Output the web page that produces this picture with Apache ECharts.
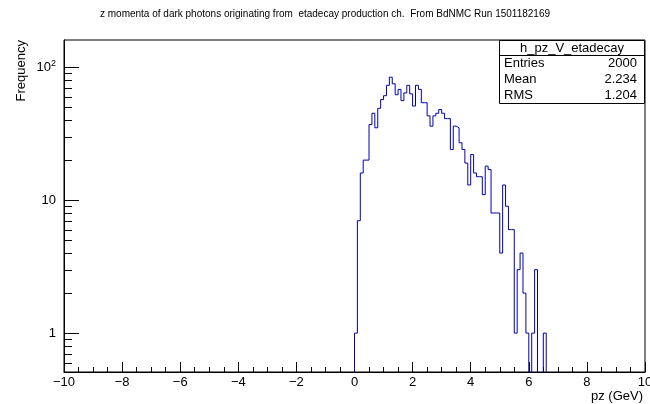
<!DOCTYPE html>
<html>
<head>
<meta charset="utf-8">
<script src="https://cdn.jsdelivr.net/npm/echarts@6/dist/echarts.min.js"></script>
<style>
  html, body { margin: 0; padding: 0; background: #fff; }
  #chart { width: 650px; height: 404px; }
</style>
</head>
<body>
<div id="chart"></div>
<script>
// Histogram binning (GeV)
const xMin = -10;
const xMax = 10;
const binWidth = 0.1;
const firstBinLow = 0;
// Entries per 0.1 GeV bin, starting at pz = 0
const counts = [
  1, 7, 16, 20, 20, 37, 45, 35, 49, 57,
  61, 73, 84, 75, 62, 68, 56, 64, 73, 63,
  51, 73, 68, 54, 54, 43, 36, 43, 45, 48,
  45, 41, 41, 24, 36, 35, 27, 24, 19, 13,
  22, 16, 15, 15, 11, 18, 17, 8, 8, 8,
  4, 13, 9, 6, 6, 1, 3, 4, 2, 1,
  0, 1, 3, 0, 0, 1
];
// Vertical (log) axis range and ticks
const yMin = 0.51;
const yMax = 160;
const yMajorTicks = [1, 10, 100];
const yMinorTicks = [0.6, 0.7, 0.8, 0.9, 2, 3, 4, 5, 6, 7, 8, 9, 20, 30, 40, 50, 60, 70, 80, 90];
const xTickStep = 2;

const titleText = 'z momenta of dark photons originating from  etadecay production ch.  From BdNMC Run 1501182169';
const xTitle = 'pz (GeV)';
const yTitle = 'Frequency';
const statsName = 'h_pz_V_etadecay';
const statsRows = [['Entries', '2000'], ['Mean', '2.234'], ['RMS', '1.204']];

// Empty bins sit below the visible log range (drawn on the frame bottom, clipped)
const emptyLevel = 0.3;

const nBins = Math.round((xMax - xMin) / binWidth);
const stepPoints = [];
let lastVal = emptyLevel;
for (let k = 0; k <= nBins; k++) {
  const x = +(xMin + k * binWidth).toFixed(3);
  if (k < nBins) {
    const idx = Math.round((x - firstBinLow) / binWidth);
    const c = (idx >= 0 && idx < counts.length) ? counts[idx] : 0;
    lastVal = c > 0 ? c : emptyLevel;
  }
  stepPoints.push([x, lastVal]);
}

// Tick marks on the log axis (major ticks are longer), drawn inward from the frame
const tickValues = yMajorTicks.concat(yMinorTicks);
const tickLengths = yMajorTicks.map(() => 15).concat(yMinorTicks.map(() => 8));
const tickData = tickValues.map(v => [0, v]);

const FONT = '"Liberation Sans", Arial, Helvetica, sans-serif';
const chart = echarts.init(document.getElementById('chart'), null, { renderer: 'canvas' });

const statsLeft = 499, statsRight = 645, statsTop = 40, statsSep = 55.5, statsBottom = 103.5;
const graphics = [
  { type: 'text', left: 'center', top: 9, style: { text: titleText, font: '10px ' + FONT, fill: '#000' } },
  { type: 'text', x: 643, y: 396, style: { text: xTitle, font: '13px ' + FONT, fill: '#000', align: 'right', verticalAlign: 'middle' } },
  { type: 'text', x: 21, y: 40, rotation: Math.PI / 2, style: { text: yTitle, font: '13px ' + FONT, fill: '#000', align: 'right', verticalAlign: 'middle' } },
  { type: 'rect', shape: { x: statsLeft + 0.5, y: statsTop + 0.5, width: statsRight - statsLeft - 1, height: statsBottom - statsTop - 0.5 },
    style: { fill: '#fff', stroke: '#000', lineWidth: 1 }, z: 60 },
  { type: 'line', shape: { x1: statsLeft, y1: statsSep, x2: statsRight, y2: statsSep }, style: { stroke: '#000', lineWidth: 1 }, z: 61 },
  { type: 'text', x: (statsLeft + statsRight) / 2, y: 48, z: 61,
    style: { text: statsName, font: '13px ' + FONT, fill: '#000', align: 'center', verticalAlign: 'middle' } }
];
statsRows.forEach((row, i) => {
  const y = 63.5 + i * 16.2;
  graphics.push({ type: 'text', x: 504, y: y, z: 61, style: { text: row[0], font: '13px ' + FONT, fill: '#000', align: 'left', verticalAlign: 'middle' } });
  graphics.push({ type: 'text', x: 637, y: y, z: 61, style: { text: row[1], font: '13px ' + FONT, fill: '#000', align: 'right', verticalAlign: 'middle' } });
});

chart.setOption({
  animation: false,
  backgroundColor: '#fff',
  grid: { left: 64, right: 5, top: 40, bottom: 32, outerBoundsMode: 'none', containLabel: false,
    show: true, borderColor: '#000', borderWidth: 1, backgroundColor: 'transparent' },
  xAxis: {
    type: 'value', min: xMin, max: xMax, interval: xTickStep,
    axisLine: { show: true, onZero: false, lineStyle: { color: '#000', width: 1 } },
    axisTick: { show: true, inside: true, length: 10, lineStyle: { color: '#000' } },
    minorTick: { show: true, splitNumber: 4, length: 5, lineStyle: { color: '#000' } },
    splitLine: { show: false },
    axisLabel: { color: '#000', fontFamily: FONT, fontSize: 13, margin: 4,
      formatter: v => String(v).replace('-', '\u2212') }
  },
  yAxis: {
    type: 'log', logBase: 10, min: yMin, max: yMax,
    axisLine: { show: true, onZero: false, lineStyle: { color: '#000', width: 1 } },
    axisTick: { show: false },
    splitLine: { show: false },
    axisLabel: {
      color: '#000', fontFamily: FONT, fontSize: 13, margin: 8,
      showMinLabel: false, showMaxLabel: false,
      formatter: v => {
        const r = Math.round(v);
        if (Math.abs(v - r) > 1e-6 || yMajorTicks.indexOf(r) < 0) return '';
        return r === 100 ? '{b|10}{s|2}' : '{b|' + r + '}';
      },
      rich: {
        b: { fontFamily: FONT, fontSize: 13, color: '#000' },
        s: { fontFamily: FONT, fontSize: 9, color: '#000', verticalAlign: 'bottom', padding: [0, 0, 8, 0] }
      }
    }
  },
  series: [
    {
      type: 'line', data: stepPoints, step: 'end', showSymbol: false, symbol: 'none',
      clip: true, lineStyle: { color: '#0000b0', width: 1 }, z: 3
    },
    {
      type: 'custom', data: tickData, encode: { x: 0, y: 1 }, z: 50,
      renderItem: (params, api) => {
        const p = api.coord([xMin, api.value(1)]);
        const len = tickLengths[params.dataIndex];
        return { type: 'group', children: [
          { type: 'rect', shape: { x: p[0], y: Math.round(p[1]), width: len, height: 1 },
            style: { fill: '#000', stroke: null } }
        ] };
      }
    }
  ],
  graphic: graphics
});

// Second pass: place the log-axis tick marks with the axis' own value-to-pixel mapping
const tickGraphics = tickValues.map((v, i) => {
  const p = chart.convertToPixel({ xAxisIndex: 0, yAxisIndex: 0 }, [xMin, v]);
  const y = Math.round(p[1]) + 0.5;
  return { type: 'line', z: 100, silent: true,
    shape: { x1: p[0], y1: y, x2: p[0] + tickLengths[i], y2: y },
    style: { stroke: '#000', lineWidth: 1 } };
});
chart.setOption({ graphic: graphics.concat(tickGraphics) });
</script>
</body>
</html>
